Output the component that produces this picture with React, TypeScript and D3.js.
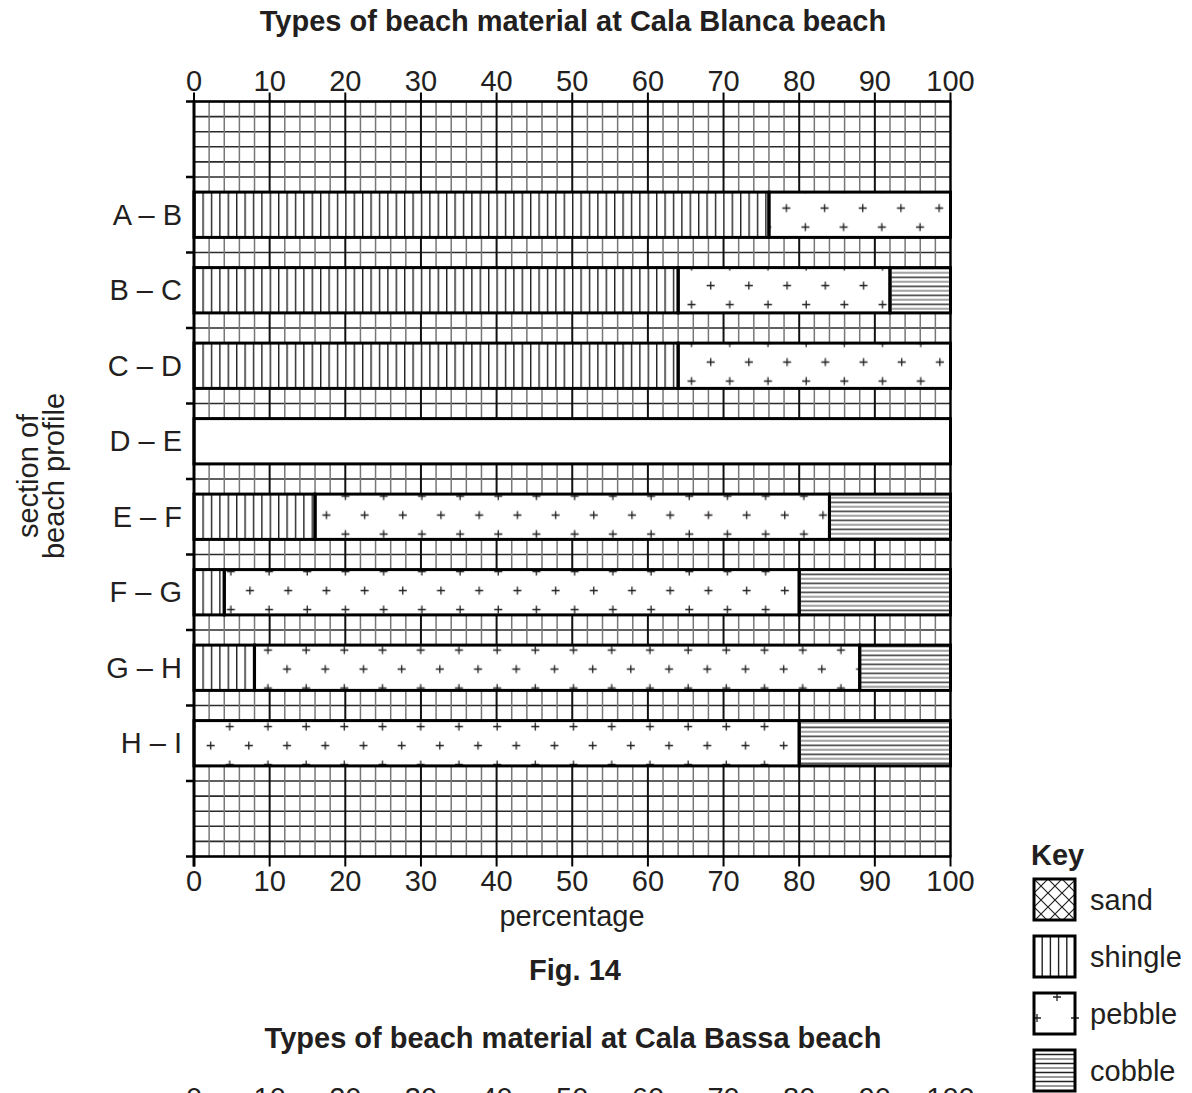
import React from "react";
import * as d3 from "d3";

// section of beach profile, top to bottom
const categories = ["A – B", "B – C", "C – D", "D – E", "E – F", "F – G", "G – H", "H – I"];
// percentage of each material (null = section left blank)
const shingle = [76, 64, 64, null, 16, 4, 8, 0];
const pebble = [24, 28, 36, null, 68, 76, 80, 80];
const cobble = [0, 8, 0, null, 16, 20, 12, 20];
const xTicks = [0, 10, 20, 30, 40, 50, 60, 70, 80, 90, 100];
const keyItems = ["sand", "shingle", "pebble", "cobble"];

// phase of the pebble "+" pattern in each bar: [x in %, px below bar top]
const pebblePhase = [[78.3, 16], [68.3, 18], [68.3, 19], [0, 0], [17.5, 21], [7.4, 21], [12.3, 24], [2.2, 25]];

const FONT = "'Liberation Sans', Arial, Helvetica, sans-serif";
const INK = "#231f20";
const FS = 29;

const App = () => {
  const width = 1192,
    height = 1093;
  const x = d3.scaleLinear().domain([0, 100]).range([194, 950.5]);
  const bands = ["top", ...categories, "bottom"];
  const y = d3.scaleBand().domain(bands).range([101.5, 856.5]);
  const bw = y.bandwidth();
  const [top, bottom] = y.range();
  const hLines = d3.range(51).map(i => top + (i * (bottom - top)) / 50);
  const vLines = d3.range(0, 101, 2);
  const barTop = c => y(c) + bw * 0.2;
  const barH = bw * 0.6;
  const PW = 38.2,
    PH = 38;

  const plus = (cx, cy, k) => (
    <path key={k} d={`M${cx - 4},${cy}H${cx + 4}M${cx},${cy - 4}V${cy + 4}`} stroke={INK} strokeWidth={1.3} />
  );

  const rows = categories.map((c, i) => {
    const yt = barTop(c);
    if (shingle[i] == null) {
      return (
        <rect key={c} x={x(0)} y={yt} width={x(100) - x(0)} height={barH} fill="#fff" stroke="#000" strokeWidth={3} />
      );
    }
    const segs = [
      { v0: 0, v1: shingle[i], fill: "url(#shingle)" },
      { v0: shingle[i], v1: shingle[i] + pebble[i], fill: `url(#peb${i})` },
      { v0: shingle[i] + pebble[i], v1: shingle[i] + pebble[i] + cobble[i], fill: "url(#cobble)" }
    ].filter(s => s.v1 > s.v0);
    return (
      <g key={c}>
        <rect x={x(0)} y={yt} width={x(100) - x(0)} height={barH} fill="#fff" />
        {segs.map((s, j) => (
          <rect key={j} x={x(s.v0)} y={yt} width={x(s.v1) - x(s.v0)} height={barH} fill={s.fill} stroke="#000" strokeWidth={3} />
        ))}
      </g>
    );
  });

  const keyX = 1034,
    keyY0 = 879,
    keyStep = 57,
    keyS = 41;

  return (
    <svg width={width} height={height} style={{ position: "absolute", left: 0, top: 0, background: "#fff" }} fontFamily={FONT}>
      <defs>
        <pattern id="shingle" patternUnits="userSpaceOnUse" x={x(0)} y={0} width={8.4} height={10}>
          <line x1={0.7} y1={0} x2={0.7} y2={10} stroke="#222" strokeWidth={1.4} />
        </pattern>
        <pattern id="cobble" patternUnits="userSpaceOnUse" x={0} y={barTop(categories[0]) + 3.5} width={10} height={9}>
          <line x1={0} y1={0.7} x2={10} y2={0.7} stroke="#222" strokeWidth={1.4} />
          <line x1={0} y1={5.2} x2={10} y2={5.2} stroke="#777" strokeWidth={1.4} />
        </pattern>
        <pattern id="sand" patternUnits="userSpaceOnUse" x={keyX} y={keyY0} width={14} height={14}>
          <path d="M0,0L14,14M14,0L0,14" stroke="#222" strokeWidth={1.2} />
        </pattern>
        {categories.map((c, i) => (
          <pattern
            key={c}
            id={`peb${i}`}
            patternUnits="userSpaceOnUse"
            x={x(pebblePhase[i][0]) - PW / 4}
            y={barTop(c) + pebblePhase[i][1] - PH / 4}
            width={PW}
            height={PH}
          >
            {plus(PW / 4, PH / 4, "a")}
            {plus((3 * PW) / 4, (3 * PH) / 4, "b")}
          </pattern>
        ))}
      </defs>

      <text x={573} y={31} textAnchor="middle" fontSize={FS} fontWeight="bold" fill={INK}>
        Types of beach material at Cala Blanca beach
      </text>

      {/* grid */}
      <g>
        {hLines.map((h, i) => (
          <line key={i} x1={x(0)} x2={x(100)} y1={h} y2={h} stroke="#2a2a2a" strokeWidth={1.6} />
        ))}
        {vLines.map(v => (
          <line
            key={v}
            x1={x(v)}
            x2={x(v)}
            y1={top}
            y2={bottom}
            stroke={v % 10 === 0 ? "#111" : "#777"}
            strokeWidth={v % 10 === 0 ? 2 : 1.5}
          />
        ))}
      </g>

      {rows}

      {/* axes frame */}
      <line x1={186} x2={x(100) + 1} y1={top} y2={top} stroke="#000" strokeWidth={2.5} />
      <line x1={186} x2={x(100) + 1} y1={bottom} y2={bottom} stroke="#000" strokeWidth={2.5} />
      <line x1={x(0)} x2={x(0)} y1={top - 1} y2={bottom + 10} stroke="#000" strokeWidth={3} />
      <line x1={x(100)} x2={x(100)} y1={top} y2={bottom} stroke="#000" strokeWidth={2} />
      {bands.slice(1).map(b => (
        <line key={b} x1={186} x2={x(0)} y1={y(b)} y2={y(b)} stroke="#000" strokeWidth={2.5} />
      ))}
      {xTicks.map(t => (
        <g key={t}>
          <line x1={x(t)} x2={x(t)} y1={top - 9} y2={top} stroke="#000" strokeWidth={2} />
          <line x1={x(t)} x2={x(t)} y1={bottom} y2={bottom + 10} stroke="#000" strokeWidth={2} />
          <text x={x(t)} y={91} textAnchor="middle" fontSize={FS} fill={INK}>
            {t}
          </text>
          <text x={x(t)} y={891} textAnchor="middle" fontSize={FS} fill={INK}>
            {t}
          </text>
        </g>
      ))}
      {categories.map(c => (
        <text key={c} x={182} y={y(c) + bw / 2 + 10} textAnchor="end" fontSize={FS} fill={INK}>
          {c}
        </text>
      ))}

      <g transform="translate(0,476) rotate(-90)" fontSize={FS} fill={INK} textAnchor="middle">
        <text x={0} y={38}>section of</text>
        <text x={0} y={64}>beach profile</text>
      </g>

      <text x={572} y={926} textAnchor="middle" fontSize={FS} fill={INK}>
        percentage
      </text>
      <text x={575} y={980} textAnchor="middle" fontSize={FS} fontWeight="bold" fill={INK}>
        Fig. 14
      </text>

      {/* key */}
      <text x={1031} y={865} fontSize={FS} fontWeight="bold" fill={INK}>
        Key
      </text>
      {keyItems.map((k, i) => {
        const ky = keyY0 + i * keyStep;
        return (
          <g key={k}>
            <rect x={keyX} y={ky} width={keyS} height={keyS} fill="#fff" />
            {k === "sand" && <rect x={keyX} y={ky} width={keyS} height={keyS} fill="url(#sand)" />}
            {k === "shingle" &&
              d3.range(1, 5).map(j => (
                <line key={j} x1={keyX + j * 8.2} x2={keyX + j * 8.2} y1={ky} y2={ky + keyS} stroke="#222" strokeWidth={1.4} />
              ))}
            {k === "pebble" && (
              <g>
                {plus(keyX + 23, ky + 4, "p1")}
                {plus(keyX + 3, ky + 25, "p2")}
                {plus(keyX + keyS, ky + 25, "p3")}
              </g>
            )}
            {k === "cobble" &&
              d3.range(1, 9).map(j => (
                <line key={j} x1={keyX} x2={keyX + keyS} y1={ky + j * 4.5} y2={ky + j * 4.5} stroke={j % 2 ? "#222" : "#777"} strokeWidth={1.4} />
              ))}
            <rect x={keyX} y={ky} width={keyS} height={keyS} fill="none" stroke="#000" strokeWidth={3} />
            <text x={1090} y={ky + keyS / 2 + 10} fontSize={FS} fill={INK}>
              {k}
            </text>
          </g>
        );
      })}

      {/* second figure, cut off at the page edge */}
      <text x={573} y={1048} textAnchor="middle" fontSize={FS} fontWeight="bold" fill={INK}>
        Types of beach material at Cala Bassa beach
      </text>
      {xTicks.map(t => (
        <text key={t} x={x(t)} y={1108} textAnchor="middle" fontSize={FS} fill={INK}>
          {t}
        </text>
      ))}
    </svg>
  );
};

export default App;
